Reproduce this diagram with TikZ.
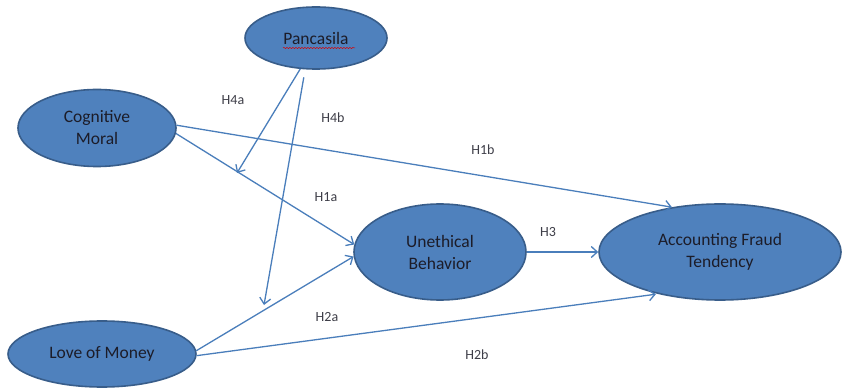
\documentclass[tikz,border=0pt]{standalone}
\usepackage{fontspec}
\setmainfont{Carlito}
\usetikzlibrary{arrows.meta,shapes.geometric,decorations.pathmorphing}
\definecolor{nodefill}{HTML}{4F81BD}
\definecolor{nodeedge}{HTML}{385D8A}
\definecolor{arrowcol}{HTML}{4A7EBB}
\definecolor{txtcol}{HTML}{1C1C28}
\begin{document}
\begin{tikzpicture}[x=1pt,y=1pt,
  construct/.style={ellipse,draw=nodeedge,fill=nodefill,line width=1.6pt,inner sep=0pt,
    text=txtcol,font=\fontsize{17.5}{22}\selectfont,align=center},
  link/.style={draw=arrowcol,line width=1.3pt,-{Straight Barb[length=6pt,width=11pt,line width=1.3pt]}},
  hyp/.style={text=txtcol!85,font=\fontsize{14}{16}\selectfont,inner sep=0pt}]
\useasboundingbox (0,0) rectangle (842,388);
\fill[white] (0,0) rectangle (842,388);
% constructs
\node[construct,minimum width=142pt,minimum height=62pt] (pa) at (316,350) {Pancasila};
\node[construct,minimum width=158pt,minimum height=77pt] (cm) at (97,260) {Cognitive\\Moral};
\node[construct,minimum width=188pt,minimum height=66pt] (lm) at (102,34) {Love of Money};
\node[construct,minimum width=172pt,minimum height=96pt] (ub) at (440,136) {Unethical\\Behavior};
\node[construct,minimum width=242pt,minimum height=96pt] (af) at (720,136) {Accounting Fraud\\Tendency};
% spell-check underline
\draw[red!85!black,line width=0.5pt,decorate,decoration={snake,amplitude=0.6pt,segment length=3pt}]
  (283,340) -- (355,340);
% moderation targets
\coordinate (m1) at (237,215);
\coordinate (m2) at (264,83);
% connectors
\draw[link] (cm.-4) -- (ub.175);
\draw[link] (cm.2) -- (af.137);
\draw[link] (lm.2) -- (ub.183);
\draw[link,shorten >=2pt] (lm.-1) -- (af.214);
\draw[link] (ub.east) -- (af.west);
\draw[link] (pa.243) -- (m1);
\draw[link,shorten <=8pt] (pa.251) -- (m2);
% hypothesis labels
\node[hyp] (h4a) at (233,288) {H4a};
\node[hyp] (h4b) at (333,270) {H4b};
\node[hyp] (h1b) at (483,238) {H1b};
\node[hyp] (h1a) at (326,191) {H1a};
\node[hyp] (h3) at (548,156) {H3};
\node[hyp] (h2a) at (327,71) {H2a};
\node[hyp] (h2b) at (477,33) {H2b};
\end{tikzpicture}
\end{document}
